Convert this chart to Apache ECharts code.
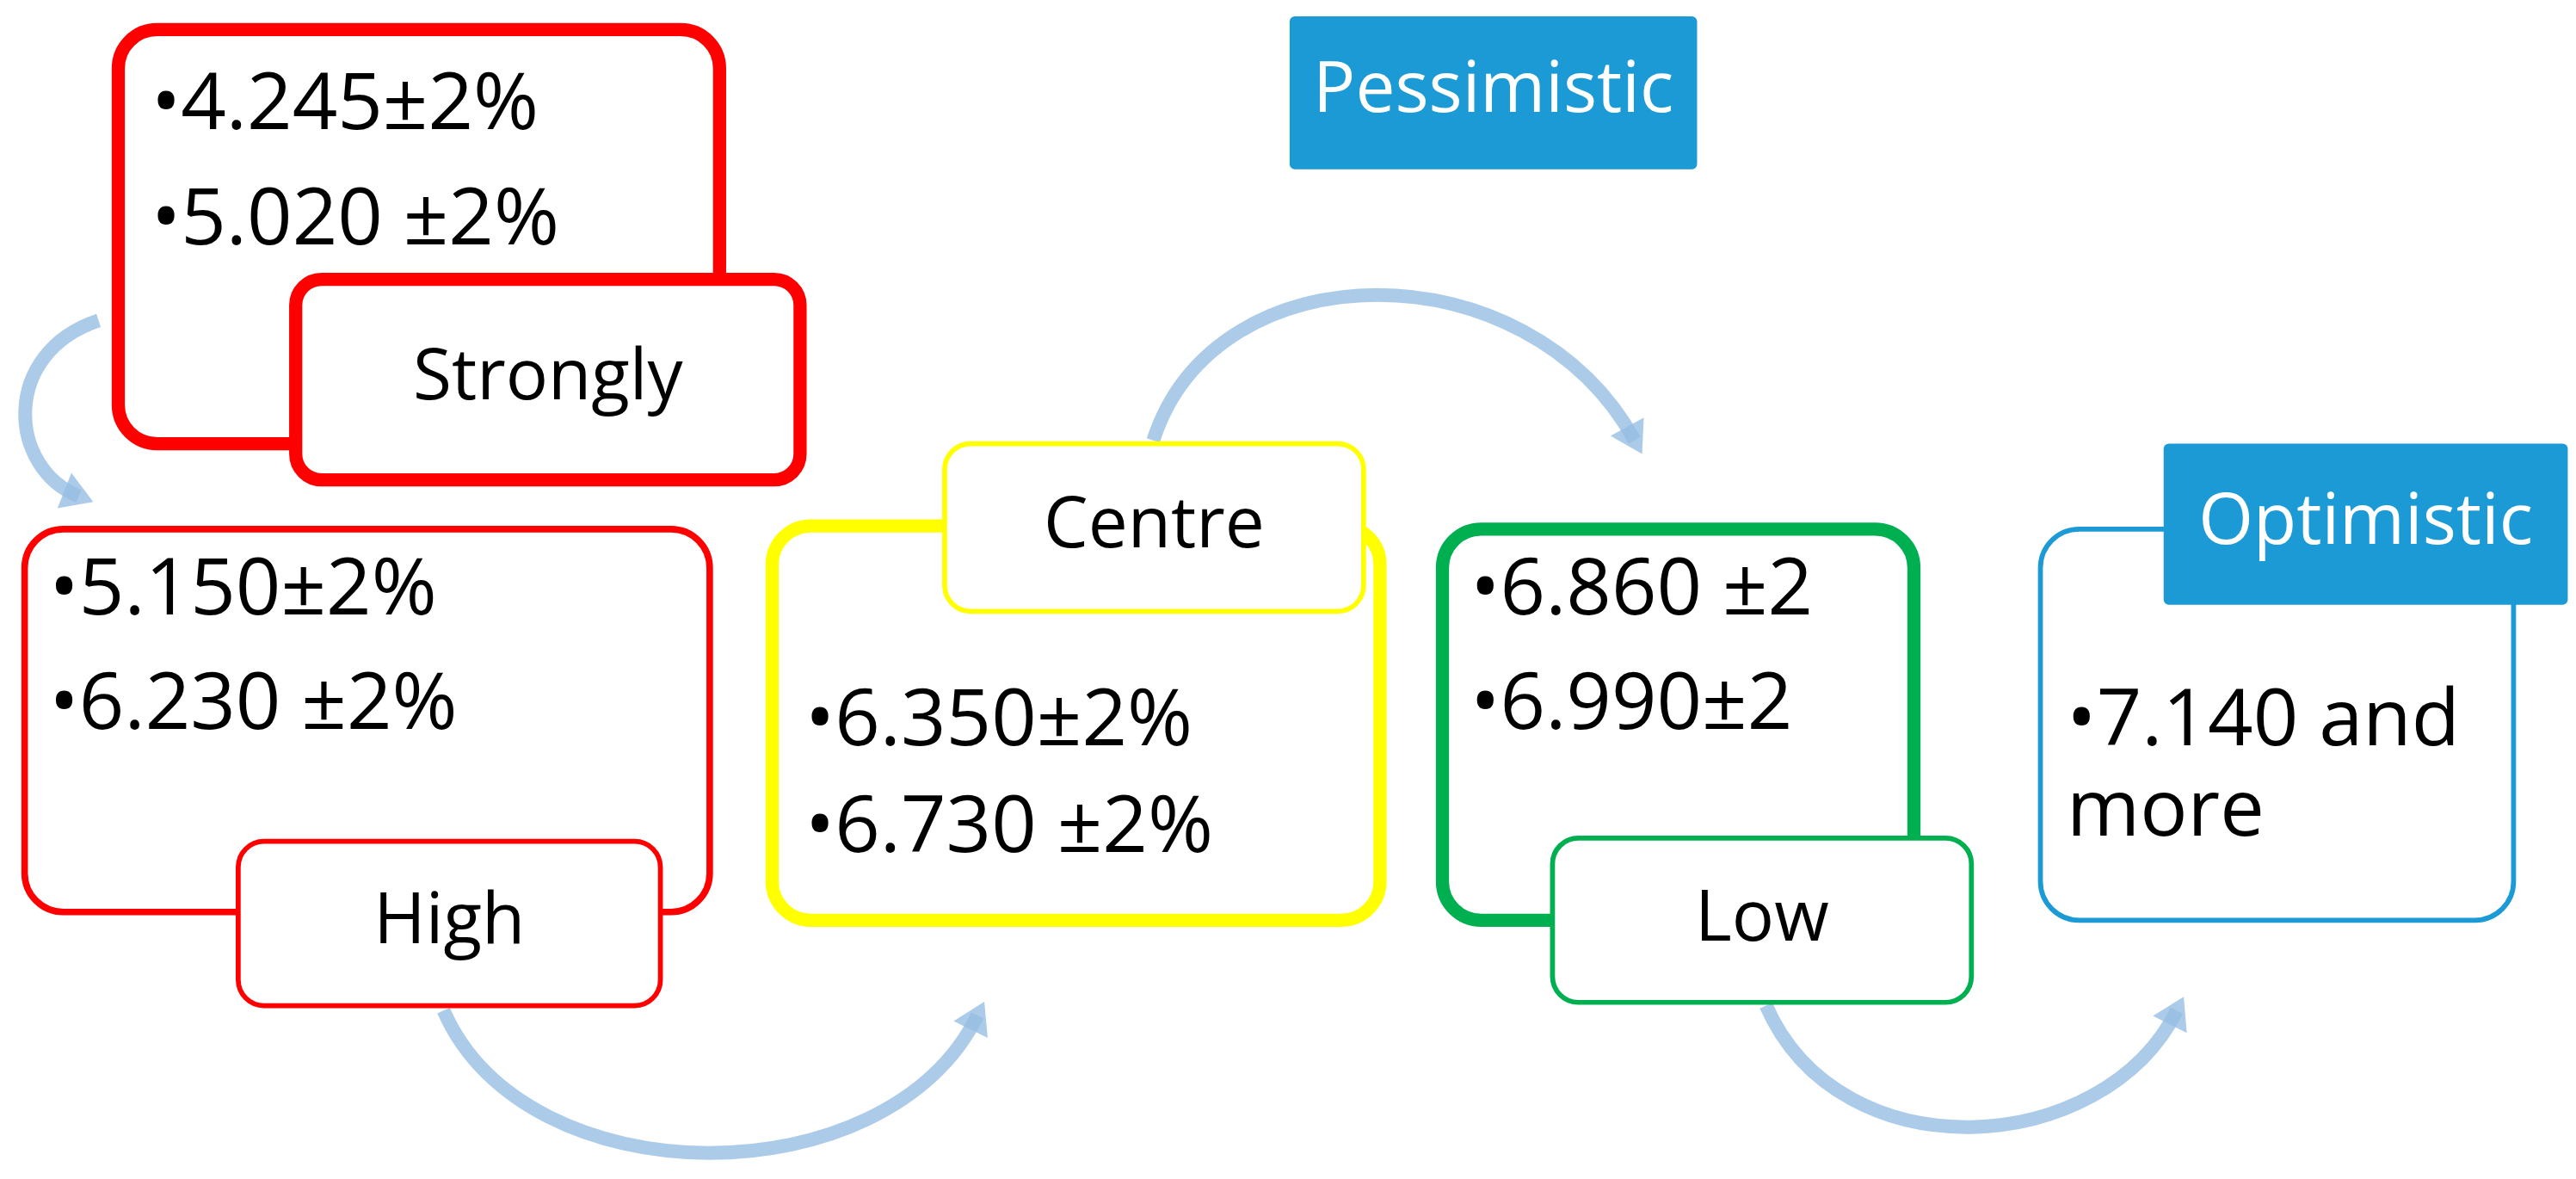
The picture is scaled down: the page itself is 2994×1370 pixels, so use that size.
<!DOCTYPE html>
<html><head><meta charset="utf-8">
<script src="https://cdn.jsdelivr.net/npm/echarts@6/dist/echarts.min.js"></script>
<style>html,body{margin:0;background:#fff}#c{width:2994px;height:1370px}</style>
</head><body><div id="c"></div>
<script>
// diagram content
var labels = ['Strongly', 'High', 'Centre', 'Low', 'Optimistic'];
var valueLines = [
  ['•4.245±2%', '•5.020 ±2%'],
  ['•5.150±2%', '•6.230 ±2%'],
  ['•6.350±2%', '•6.730 ±2%'],
  ['•6.860 ±2', '•6.990±2'],
  ['•7.140 and', 'more']
];
var headerText = 'Pessimistic';

// layout in reference units (1568 wide), scaled below
var S = 2994 / 1568;
var boxes = [
  {outer: [72, 18, 366, 252], lab: [180, 170, 307, 122], col: '#ff0000', w: 8, lw: 8, tx: 92, ty: [65, 135], fill: false},
  {outer: [15, 322, 417, 233], lab: [145, 512, 257, 100], col: '#ff0000', w: 4, lw: 3, tx: 30, ty: [360, 430], fill: false},
  {outer: [470, 320, 370, 240], lab: [575, 270, 255, 102], col: '#ffff00', w: 8, lw: 3, tx: 490, ty: [440, 505], fill: false},
  {outer: [878, 322, 287, 238], lab: [945, 510, 255, 100], col: '#00b050', w: 8, lw: 3, tx: 895, ty: [360, 430], fill: false},
  {outer: [1242, 322, 288, 238], lab: [1317, 270, 246, 98], col: '#1b9ad6', w: 3, lw: 0, tx: 1258, ty: [440, 495], fill: true}
];
var arrows = [
  [[60, 195], [0, 215], [5, 285], [48, 302]],
  [[270, 615], [320, 730], [540, 730], [595, 618]],
  [[702, 268], [740, 150], [930, 150], [995, 268]],
  [[1075, 612], [1120, 715], [1280, 705], [1325, 615]]
];
var FONT = '"Open Sans", Lato, sans-serif';
var arrowCol = 'rgba(150,190,228,0.8)';

function sc(v) { return v * S; }
var els = [];
arrows.forEach(function (a) {
  var p = a.map(function (q) { return [sc(q[0]), sc(q[1])]; });
  els.push({type: 'bezierCurve', shape: {x1: p[0][0], y1: p[0][1], cpx1: p[1][0], cpy1: p[1][1], cpx2: p[2][0], cpy2: p[2][1], x2: p[3][0], y2: p[3][1]},
    style: {stroke: arrowCol, lineWidth: 16, fill: null}});
  var dx = p[3][0] - p[2][0], dy = p[3][1] - p[2][1], L = Math.hypot(dx, dy);
  dx /= L; dy /= L;
  var tip = [p[3][0] + dx * 18, p[3][1] + dy * 18], h = 36, w = 22;
  els.push({type: 'polygon', shape: {points: [tip,
    [tip[0] - dx * h - dy * w, tip[1] - dy * h + dx * w],
    [tip[0] - dx * h + dy * w, tip[1] - dy * h - dx * w]]}, style: {fill: arrowCol}});
});
boxes.forEach(function (b, i) {
  var o = b.outer.map(sc), l = b.lab.map(sc);
  els.push({type: 'rect', shape: {x: o[0], y: o[1], width: o[2], height: o[3], r: 45},
    style: {fill: '#fff', stroke: b.col, lineWidth: b.w * S}});
  valueLines[i].forEach(function (t, k) {
    els.push({type: 'text', x: sc(b.tx), y: sc(b.ty[k]),
      style: {text: t, fill: '#000', font: '92px ' + FONT, textVerticalAlign: 'middle'}});
  });
  els.push({type: 'rect', shape: {x: l[0], y: l[1], width: l[2], height: l[3], r: b.fill ? 6 : 30},
    style: {fill: b.fill ? b.col : '#fff', stroke: b.fill ? null : b.col, lineWidth: b.lw * S}});
  els.push({type: 'text', x: l[0] + l[2] / 2, y: l[1] + l[3] / 2,
    style: {text: labels[i], fill: b.fill ? '#fff' : '#000', font: '82px ' + FONT, textAlign: 'center', textVerticalAlign: 'middle'}});
});
els.push({type: 'rect', shape: {x: sc(785), y: sc(10), width: sc(248), height: sc(93), r: 6}, style: {fill: '#1b9ad6'}});
els.push({type: 'text', x: sc(909), y: sc(56), style: {text: headerText, fill: '#fff', font: '82px ' + FONT, textAlign: 'center', textVerticalAlign: 'middle'}});

var chart = echarts.init(document.getElementById('c'));
chart.setOption({animation: false, graphic: {elements: els}});
</script></body></html>
